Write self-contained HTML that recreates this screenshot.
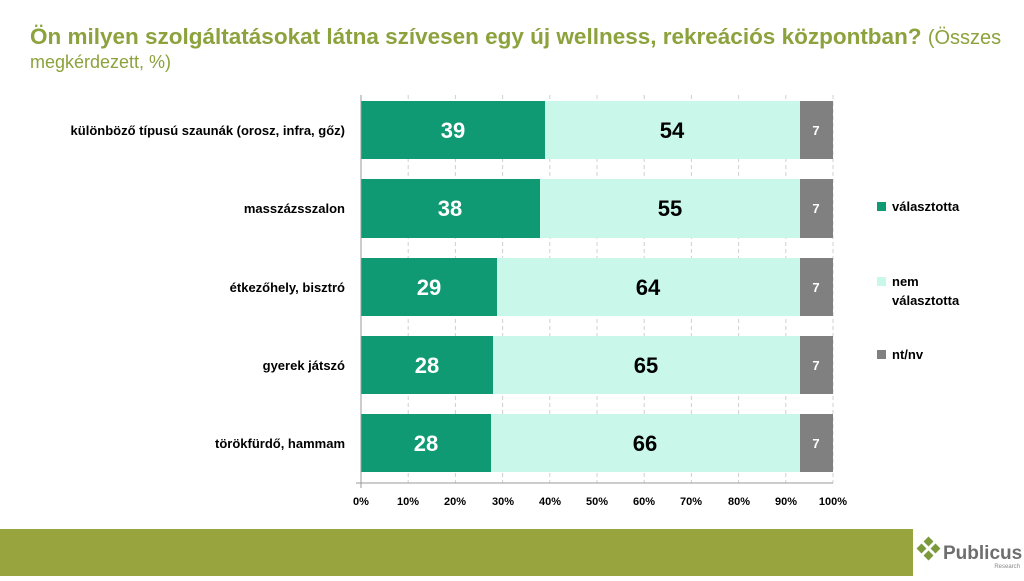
<!DOCTYPE html>
<html><head><meta charset="utf-8"><style>
body{margin:0;width:1024px;height:576px;overflow:hidden;background:#fff;font-family:"Liberation Sans",Arial,sans-serif}
</style></head><body>
<svg width="1024" height="576" xmlns="http://www.w3.org/2000/svg" font-family="Liberation Sans, Arial, sans-serif">
<text x="30" y="44" font-size="22.5" font-weight="bold" fill="#8ca23c">Ön milyen szolgáltatásokat látna szívesen egy új wellness, rekreációs központban? <tspan font-weight="normal" font-size="20">(Összes</tspan></text>
<text x="30" y="68" font-size="18" fill="#8ca23c">megkérdezett, %)</text>
<g stroke="#d0d0d0" stroke-dasharray="4,3" stroke-width="1">
<line x1="408.2" y1="95" x2="408.2" y2="483"/><line x1="455.4" y1="95" x2="455.4" y2="483"/><line x1="502.6" y1="95" x2="502.6" y2="483"/><line x1="549.8" y1="95" x2="549.8" y2="483"/><line x1="597" y1="95" x2="597" y2="483"/><line x1="644.2" y1="95" x2="644.2" y2="483"/><line x1="691.4" y1="95" x2="691.4" y2="483"/><line x1="738.6" y1="95" x2="738.6" y2="483"/><line x1="785.8" y1="95" x2="785.8" y2="483"/><line x1="833" y1="95" x2="833" y2="483"/>
</g>
<g>
<rect x="361" y="101" width="184" height="58" fill="#109a74"/><rect x="545" y="101" width="255" height="58" fill="#c9f7e9"/><rect x="800" y="101" width="33" height="58" fill="#808080"/>
<rect x="361" y="179" width="179" height="59" fill="#109a74"/><rect x="540" y="179" width="260" height="59" fill="#c9f7e9"/><rect x="800" y="179" width="33" height="59" fill="#808080"/>
<rect x="361" y="258" width="136" height="58" fill="#109a74"/><rect x="497" y="258" width="303" height="58" fill="#c9f7e9"/><rect x="800" y="258" width="33" height="58" fill="#808080"/>
<rect x="361" y="336" width="132" height="58" fill="#109a74"/><rect x="493" y="336" width="307" height="58" fill="#c9f7e9"/><rect x="800" y="336" width="33" height="58" fill="#808080"/>
<rect x="361" y="414" width="130" height="58" fill="#109a74"/><rect x="491" y="414" width="309" height="58" fill="#c9f7e9"/><rect x="800" y="414" width="33" height="58" fill="#808080"/>
</g>
<g font-weight="bold" text-anchor="middle" font-size="22">
<text x="453" y="138" fill="#fff">39</text><text x="672" y="138" fill="#000">54</text>
<text x="450" y="216" fill="#fff">38</text><text x="670" y="216" fill="#000">55</text>
<text x="429" y="295" fill="#fff">29</text><text x="648" y="295" fill="#000">64</text>
<text x="427" y="373" fill="#fff">28</text><text x="646" y="373" fill="#000">65</text>
<text x="426" y="451" fill="#fff">28</text><text x="645" y="451" fill="#000">66</text>
</g>
<g font-weight="bold" text-anchor="middle" font-size="13" fill="#fff">
<text x="816" y="135">7</text><text x="816" y="213">7</text><text x="816" y="292">7</text><text x="816" y="370">7</text><text x="816" y="448">7</text>
</g>
<g font-weight="bold" text-anchor="end" font-size="13" fill="#000">
<text x="345" y="135">különböző típusú szaunák (orosz, infra, gőz)</text>
<text x="345" y="213">masszázsszalon</text>
<text x="345" y="292">étkezőhely, bisztró</text>
<text x="345" y="370">gyerek játszó</text>
<text x="345" y="448">törökfürdő, hammam</text>
</g>
<line x1="356" y1="483" x2="833" y2="483" stroke="#999" stroke-width="1"/>
<line x1="361" y1="95" x2="361" y2="488" stroke="#999" stroke-width="1"/>
<g font-weight="bold" text-anchor="middle" font-size="11" fill="#000">
<text x="361" y="505">0%</text><text x="408" y="505">10%</text><text x="455" y="505">20%</text><text x="503" y="505">30%</text><text x="550" y="505">40%</text><text x="597" y="505">50%</text><text x="644" y="505">60%</text><text x="691" y="505">70%</text><text x="739" y="505">80%</text><text x="786" y="505">90%</text><text x="833" y="505">100%</text>
</g>
<rect x="877" y="202" width="9" height="9" fill="#109a74"/>
<text x="892" y="211" font-size="13" font-weight="bold">választotta</text>
<rect x="877" y="277" width="9" height="9" fill="#c9f7e9"/>
<text x="892" y="286" font-size="13" font-weight="bold">nem</text>
<text x="892" y="305" font-size="13" font-weight="bold">választotta</text>
<rect x="877" y="350" width="9" height="9" fill="#808080"/>
<text x="892" y="359" font-size="13" font-weight="bold">nt/nv</text>
<rect x="0" y="529" width="913" height="47" fill="#98a43d"/>
<g fill="#7c9a3a">
<rect x="925" y="538" width="7" height="7" transform="rotate(45 928.5 541.5)"/>
<rect x="918" y="545" width="7" height="7" transform="rotate(45 921.5 548.5)"/>
<rect x="932" y="545" width="7" height="7" transform="rotate(45 935.5 548.5)"/>
<rect x="925" y="552" width="7" height="7" transform="rotate(45 928.5 555.5)"/>
</g>
<text x="943" y="559" font-size="19" font-weight="bold" fill="#6e6e6e">Publicus</text>
<text x="1020" y="568" font-size="6" text-anchor="end" fill="#888">Research</text>
</svg>
</body></html>
